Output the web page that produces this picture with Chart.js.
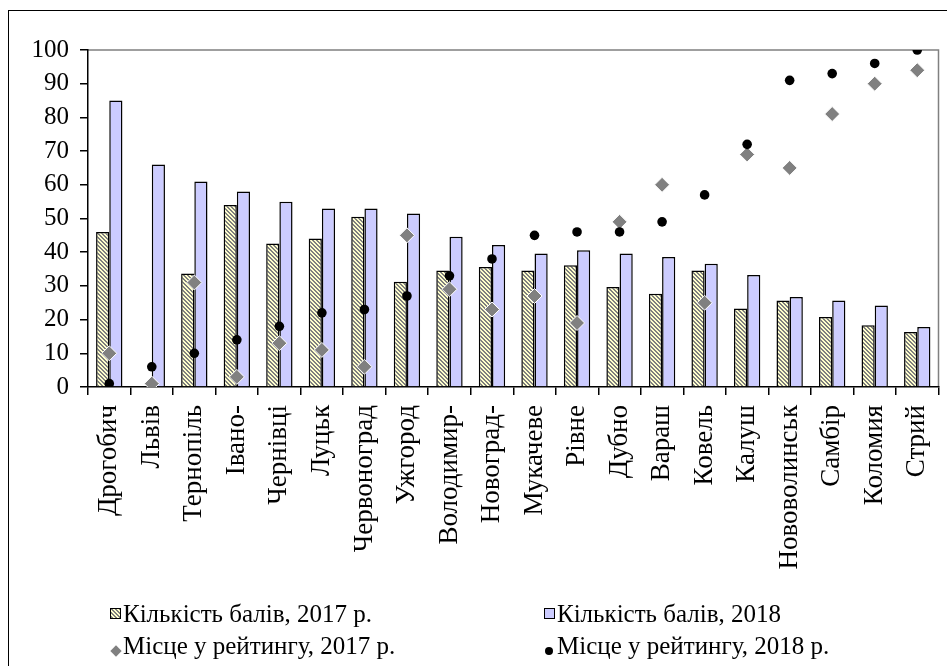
<!DOCTYPE html>
<html>
<head>
    <title>Рейтинг міст</title>
    <script src="https://cdn.jsdelivr.net/npm/chart.js"></script>
    <style>
    body { margin: 0; background: #fff; overflow: hidden; }
    .wrap { position: relative; width: 947px; height: 666px; }
    .lg { position: absolute; font-family: "Liberation Serif", "Times New Roman", serif; font-size: 25px; line-height: 24px; color: #000; white-space: nowrap; }
    .mk { position: absolute; box-sizing: border-box; }
  </style>
</head>
<body>
<div class="wrap">
  <canvas id="chart" width="947" height="666"></canvas>
  <!-- legend, two columns like the original -->
  <div class="mk" id="sq2017" style="left:110px;top:608px;width:11px;height:11px;border:1px solid #000;"></div>
  <div class="lg" style="left:123px;top:602px;">Кількість балів, 2017 р.</div>
  <div class="mk" style="left:544px;top:608px;width:11px;height:11px;border:1px solid #000;background:#ccccff;"></div>
  <div class="lg" style="left:557px;top:602px;">Кількість балів, 2018</div>
  <div class="mk" style="left:112px;top:647px;width:8px;height:8px;background:#808080;transform:rotate(45deg);"></div>
  <div class="lg" style="left:123px;top:634px;">Місце у рейтингу, 2017 р.</div>
  <div class="mk" style="left:545px;top:647px;width:8px;height:8px;background:#000;border-radius:50%;"></div>
  <div class="lg" style="left:557px;top:634px;">Місце у рейтингу, 2018 р.</div>
</div>
<script>
  var cities = ['Дрогобич', 'Львів', 'Тернопіль', 'Івано-', 'Чернівці', 'Луцьк', 'Червоноград', 'Ужгород', 'Володимир-', 'Новоград-',
                'Мукачеве', 'Рівне', 'Дубно', 'Вараш', 'Ковель', 'Калуш', 'Нововолинськ', 'Самбір', 'Коломия', 'Стрий'];
  var score2017 = [46, null, 33.7, 54, 42.6, 44.1, 50.5, 31.2, 34.6, 35.6, 34.6, 36.1, 29.7, 27.7, 34.6, 23.3, 25.7, 20.8, 18.3, 16.3];
  var score2018 = [85, 66, 61, 58, 55, 53, 53, 51.5, 44.6, 42.1, 39.6, 40.6, 39.6, 38.6, 36.6, 33.2, 26.7, 25.7, 24.2, 17.8];
  var rank2017 = [10, 1, 31, 3, 13, 11, 6, 45, 29, 23, 27, 19, 49, 60, 25, 69, 65, 81, 90, 94];
  var rank2018 = [1, 6, 10, 14, 18, 22, 23, 27, 33, 38, 45, 46, 46, 49, 57, 72, 91, 93, 96, 100];
  var yTicks = { min: 0, max: 100, step: 10 };

  // yellow with grey "\" stripes, like the Excel pattern fill
  function stripes() {
      var c = document.createElement('canvas');
      c.width = 4; c.height = 4;
      var x = c.getContext('2d');
      x.fillStyle = '#ffffcc';
      x.fillRect(0, 0, 4, 4);
      x.fillStyle = '#7f7f7f';
      for (var i = 0; i < 4; i++) {
          x.fillRect(i, i, 1, 1);
          x.fillRect((i + 1) % 4, i, 1, 1);
      }
      return c;
  }
  var tile = stripes();
  document.getElementById('sq2017').style.background = 'url(' + tile.toDataURL() + ')';

  var frame = {
      id: 'frame',
      beforeDraw: function(chart) {
          var ctx = chart.ctx, a = chart.chartArea;
          ctx.save();
          ctx.fillStyle = '#fff';
          ctx.fillRect(0, 0, chart.width, chart.height);
          ctx.strokeStyle = '#000';
          ctx.lineWidth = 1;
          ctx.strokeRect(8.5, 10.5, 1200, 1200);
          ctx.strokeStyle = '#808080';
          ctx.lineWidth = 1.5;
          ctx.beginPath();
          ctx.moveTo(a.left, a.top);
          ctx.lineTo(a.right, a.top);
          ctx.lineTo(a.right, a.bottom);
          ctx.stroke();
          ctx.restore();
      }
  };

  var serif = 'Liberation Serif';
  var ctx = document.getElementById('chart').getContext('2d');
  var chart = new Chart(ctx, {
      type: 'bar',
      data: {
          labels: cities,
          datasets: [{
              type: 'line',
              label: 'Місце у рейтингу, 2018 р.',
              data: rank2018,
              showLine: false,
              pointStyle: 'circle',
              pointRadius: 4.8,
              pointBackgroundColor: '#000',
              pointBorderColor: '#000',
              pointBorderWidth: 0,
              order: 0
          }, {
              type: 'line',
              label: 'Місце у рейтингу, 2017 р.',
              data: rank2017,
              showLine: false,
              pointStyle: 'rectRot',
              pointRadius: 7.5,
              pointBackgroundColor: '#808080',
              pointBorderColor: '#fff',
              pointBorderWidth: 1,
              order: 1
          }, {
              label: 'Кількість балів, 2017 р.',
              data: score2017,
              backgroundColor: ctx.createPattern(tile, 'repeat'),
              borderColor: '#000',
              borderWidth: 1.5,
              categoryPercentage: 0.62,
              barPercentage: 1,
              order: 2
          }, {
              label: 'Кількість балів, 2018',
              data: score2018,
              backgroundColor: '#ccccff',
              borderColor: '#000',
              borderWidth: 1.5,
              categoryPercentage: 0.62,
              barPercentage: 1,
              order: 3
          }]
      },
      options: {
          responsive: false,
          animation: false,
          layout: { padding: { top: 50, right: 3, left: 0, bottom: 0 } },
          plugins: {
              legend: { display: false },
              tooltip: { enabled: false }
          },
          scales: {
              x: {
                  offset: true,
                  grid: { drawOnChartArea: false, offset: true, tickLength: 8, color: '#000', lineWidth: 1.5 },
                  border: { color: '#000', width: 1.5 },
                  ticks: {
                      autoSkip: false, minRotation: 90, maxRotation: 90, padding: 10, color: '#000',
                      font: { family: serif, size: 27 }
                  },
                  afterFit: function(s) { s.height = 279; s.paddingLeft = 0; s.paddingRight = 0; }
              },
              y: {
                  min: yTicks.min,
                  max: yTicks.max,
                  grid: { drawOnChartArea: false, tickLength: 8, color: '#000', lineWidth: 1.5 },
                  border: { color: '#000', width: 1.5 },
                  ticks: { stepSize: yTicks.step, padding: 11, color: '#000', font: { family: serif, size: 25 } },
                  afterFit: function(s) { s.width = 88; }
              }
          }
      },
      plugins: [frame]
  });
</script>
</body>
</html>
